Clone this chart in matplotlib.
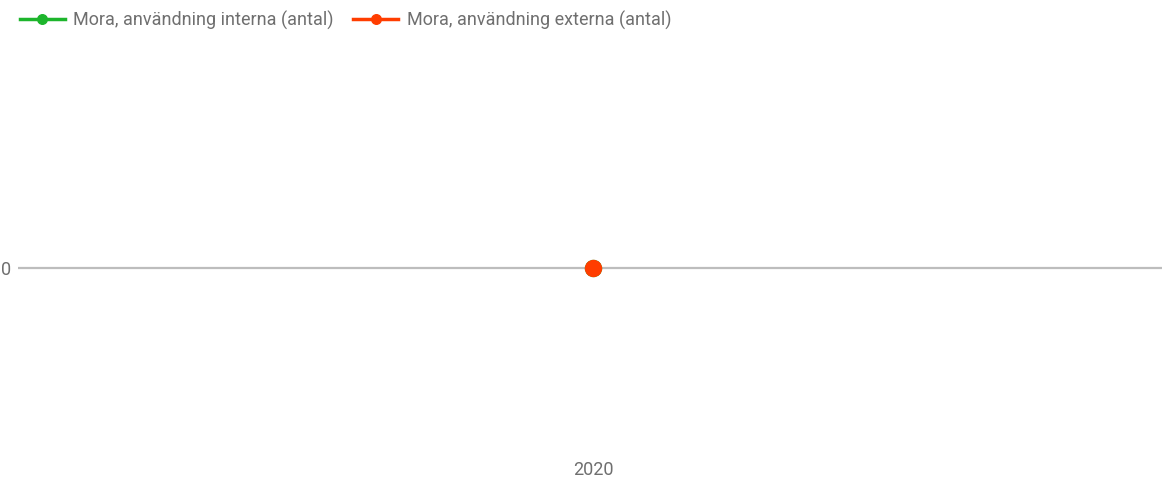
import matplotlib
matplotlib.use("Agg")
import matplotlib.pyplot as plt

plt.rcParams["font.family"] = ["Roboto", "DejaVu Sans"]

years = ["2020"]
interna = [0]
externa = [0]

GREEN = "#1db52c"
RED = "#ff3d00"
TEXT = "#6f6f6f"

fig = plt.figure(figsize=(11.62, 4.79), dpi=100)
ax = fig.add_axes([18 / 1162, 29 / 479, 1150 / 1162, 364 / 479])

x = list(range(len(years)))
ax.plot(x, interna, color=GREEN, lw=2.5, marker="o", ms=11.5, mec=GREEN,
        label="Mora, användning interna (antal)", zorder=3)
ax.plot(x, externa, color=RED, lw=2.5, marker="o", ms=11.5, mec=RED,
        label="Mora, användning externa (antal)", zorder=4)

ax.set_xlim(-0.5, 0.5)
ax.set_ylim(-1, 1)
ax.axhline(0, color="#bdbdbd", lw=1.6, zorder=1)

ax.set_xticks(x)
ax.set_xticklabels(years)
ax.set_yticks([0])
ax.set_yticklabels(["0"])
ax.tick_params(axis="both", length=0, colors=TEXT, labelsize=13)
ax.tick_params(axis="x", pad=8)
ax.tick_params(axis="y", pad=5)
for s in ax.spines.values():
    s.set_visible(False)

leg = fig.legend(loc="upper left", bbox_to_anchor=(0.003, 1.012), ncol=2, frameon=False,
                 fontsize=13, handlelength=2.5, handletextpad=0.45, columnspacing=1.1,
                 markerscale=0.6)
for t in leg.get_texts():
    t.set_color(TEXT)

fig.savefig("out.png", dpi=100)
